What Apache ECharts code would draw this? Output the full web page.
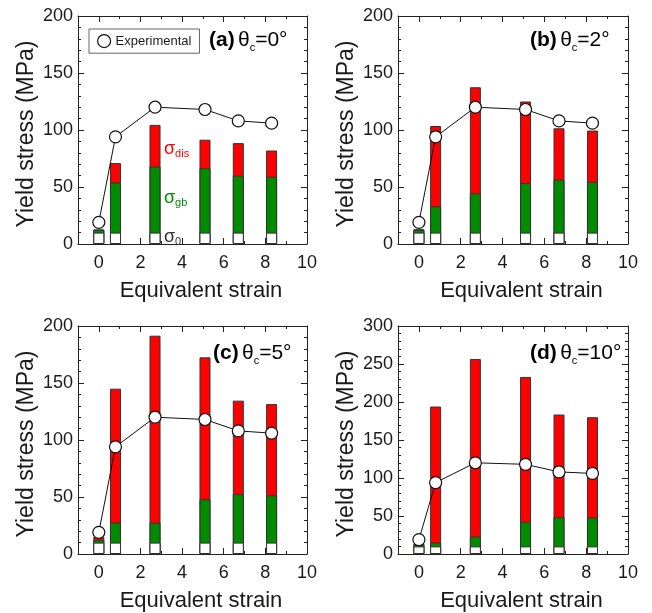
<!DOCTYPE html>
<html>
<head>
<meta charset="utf-8">
<script src="https://cdn.jsdelivr.net/npm/echarts@6/dist/echarts.min.js"></script>
<style>
  html, body { margin: 0; padding: 0; background: #fff; }
  #chart { width: 652px; height: 613px; }
</style>
</head>
<body>
<div id="chart"></div>
<script>
// Equivalent strain of each sample
const strain = [0, 0.8, 2.7, 5.1, 6.7, 8.3];
// Measured yield stress (MPa)
const experimental = [19, 94, 120, 118, 108, 106];

// Friction stress sigma_0 (MPa), same for all samples
const sigma0 = [10, 10, 10, 10, 10, 10];

// Grain-boundary and dislocation contributions (MPa) for each critical angle
const gbA  = [2.5, 44, 58, 56.5, 50, 49];
const disA = [0.3, 17, 36.5, 25, 28.5, 23];

const gbB  = [2.3, 23, 34.5, 43.5, 46.5, 44.5];
const disB = [0.7, 70.5, 93, 71.5, 45, 45];

const gbC  = [2.4, 17.5, 17.5, 38, 42.5, 41.5];
const disC = [2.6, 117.5, 164, 124.5, 82, 80];

const gbD  = [2, 5, 13, 32.5, 38.5, 38];
const disD = [2, 179, 233.5, 190.5, 135, 132];

// Axis ticks
const xMajorTicks = [0, 2, 4, 6, 8, 10];
const yMax = [200, 200, 200, 300];
const panelTag = ['(a)', '(b)', '(c)', '(d)'];
const panelAngle = ['0°', '2°', '5°', '10°'];

const panels = [
  { gb: gbA, dis: disA },
  { gb: gbB, dis: disB },
  { gb: gbC, dis: disC },
  { gb: gbD, dis: disD }
];

const FONT = '"Liberation Sans", Arial, Helvetica, sans-serif';
const TXT = '#1a1a1a';

const grids = [
  { left: 78,  top: 16,  width: 229, height: 228 },
  { left: 398, top: 16,  width: 230, height: 228 },
  { left: 78,  top: 326, width: 229, height: 230 },
  { left: 398, top: 326, width: 230, height: 230 }
];

const xAxes = [], yAxes = [], series = [];
const pair = (ys) => strain.map((x, i) => [x, ys[i]]);
const lineStyle = { color: '#222', width: 1 };

function xAxisFor(g, position, withLabels) {
  // axis with short ticks at every unit
  const a = {
    gridIndex: g, type: 'value', position, min: -1, max: 10, interval: 1,
    axisLine: { show: true, onZero: false, lineStyle },
    axisTick: { show: true, inside: true, length: 3, lineStyle },
    axisLabel: { show: false },
    splitLine: { show: false }
  };
  if (withLabels) {
    a.axisLabel = { show: true, margin: 10, fontSize: 18, color: TXT, fontFamily: FONT,
      customValues: xMajorTicks };
    a.name = 'Equivalent strain';
    a.nameLocation = 'middle';
    a.nameGap = 36;
    a.nameTextStyle = { fontSize: 22, color: TXT, fontFamily: FONT, padding: [0, 0, 0, 17] };
  }
  return a;
}
function xMajorAxisFor(g, position) {
  // longer ticks at the labelled values
  return {
    gridIndex: g, type: 'value', position, min: -1, max: 10, interval: 1,
    axisLine: { show: false, onZero: false },
    axisTick: { show: true, inside: true, length: 6, lineStyle, customValues: xMajorTicks },
    axisLabel: { show: false }, splitLine: { show: false }
  };
}

panels.forEach((p, g) => {
  const xi = xAxes.length;
  xAxes.push(xAxisFor(g, 'bottom', true));
  xAxes.push(xAxisFor(g, 'top', false));
  xAxes.push(xMajorAxisFor(g, 'bottom'));
  xAxes.push(xMajorAxisFor(g, 'top'));

  const yi = yAxes.length;
  yAxes.push({
    gridIndex: g, type: 'value', position: 'left', min: 0, max: yMax[g], interval: 50,
    axisLine: { show: true, onZero: false, lineStyle },
    axisTick: { show: true, inside: true, length: 6, lineStyle },
    minorTick: { show: true, splitNumber: 5, length: 3, lineStyle },
    axisLabel: { show: true, margin: 5, fontSize: 18, color: TXT, fontFamily: FONT },
    splitLine: { show: false },
    name: 'Yield stress (MPa)', nameLocation: 'middle', nameGap: 40,
    nameTextStyle: { fontSize: 23, color: TXT, fontFamily: FONT, padding: [0, 8, 0, 0] }
  });
  yAxes.push({
    gridIndex: g, type: 'value', position: 'right', min: 0, max: yMax[g], interval: 50,
    axisLine: { show: true, onZero: false, lineStyle },
    axisTick: { show: true, inside: true, length: 6, lineStyle },
    minorTick: { show: true, splitNumber: 5, length: 3, lineStyle },
    axisLabel: { show: false }, splitLine: { show: false }
  });

  // cumulative tops of each stress component
  const gbTop = sigma0.map((v, i) => v + p.gb[i]);
  const totalTop = gbTop.map((v, i) => v + p.dis[i]);

  const barBase = {
    type: 'bar', xAxisIndex: xi, yAxisIndex: yi,
    barWidth: 11, barGap: '-100%', silent: true
  };
  series.push(Object.assign({}, barBase, {
    name: 'σdis', data: pair(totalTop), z: 2,
    itemStyle: { color: '#ff0000', borderColor: '#333', borderWidth: 1 }
  }));
  series.push(Object.assign({}, barBase, {
    name: 'σgb', data: pair(gbTop), z: 3,
    itemStyle: { color: '#008c00', borderColor: '#333', borderWidth: 1 }
  }));
  series.push(Object.assign({}, barBase, {
    name: 'σ0', data: pair(sigma0), z: 4,
    itemStyle: { color: '#ffffff', borderColor: '#333', borderWidth: 1 }
  }));
  series.push({
    type: 'line', name: 'Experimental', xAxisIndex: xi, yAxisIndex: yi,
    data: pair(experimental), z: 6,
    symbol: 'circle', symbolSize: 12,
    lineStyle: { color: '#111', width: 1 },
    itemStyle: { color: '#ffffff', borderColor: '#111', borderWidth: 1.2 }
  });
});

// Panel captions: "(x) θc=angle"
const graphics = grids.map((gr, g) => ({
  type: 'text',
  x: [209, 530, 213, 530][g],
  y: [40, 40, 353, 353][g],
  style: {
    text: '{tag|' + panelTag[g] + '} {th|θ}{sub|c}{th|=' + panelAngle[g] + '}',
    verticalAlign: 'middle',
    rich: {
      tag: { fontSize: 21, fontWeight: 'bold', fontFamily: FONT, fill: '#000', lineHeight: 26, verticalAlign: 'middle' },
      th:  { fontSize: 21, fontFamily: FONT, fill: '#000', lineHeight: 26, verticalAlign: 'middle' },
      sub: { fontSize: 11, fontFamily: FONT, fill: '#000', lineHeight: 10, verticalAlign: 'bottom' }
    }
  }
}));

// Component labels in panel (a)
const sigmaLabels = [
  { text: '{s|σ}{sub|dis}', y: 149, color: '#ff0000' },
  { text: '{s|σ}{sub|gb}',  y: 198, color: '#008c00' },
  { text: '{s|σ}{sub|0}',   y: 237, color: '#333333' }
];
sigmaLabels.forEach(l => {
  graphics.push({
    type: 'text', x: 164, y: l.y, z: 10,
    style: {
      text: l.text, verticalAlign: 'middle',
      rich: {
        s:   { fontSize: 18, fontFamily: FONT, fill: l.color, lineHeight: 20, verticalAlign: 'middle' },
        sub: { fontSize: 11, fontFamily: FONT, fill: l.color, lineHeight: 12, verticalAlign: 'bottom' }
      }
    }
  });
});

const chart = echarts.init(document.getElementById('chart'), null, { renderer: 'canvas' });
chart.setOption({
  backgroundColor: '#ffffff',
  animation: false,
  grid: grids,
  xAxis: xAxes,
  yAxis: yAxes,
  series: series,
  legend: {
    data: [{ name: 'Experimental', icon: 'circle',
             itemStyle: { color: '#fff', borderColor: '#111', borderWidth: 1.2 } }],
    left: 89, top: 29,
    padding: [5, 8, 5, 8],
    itemWidth: 13, itemHeight: 13, itemGap: 6,
    borderColor: '#666', borderWidth: 1,
    textStyle: { fontSize: 13, color: TXT, fontFamily: FONT },
    selectedMode: false
  },
  graphic: graphics
});
</script>
</body>
</html>
